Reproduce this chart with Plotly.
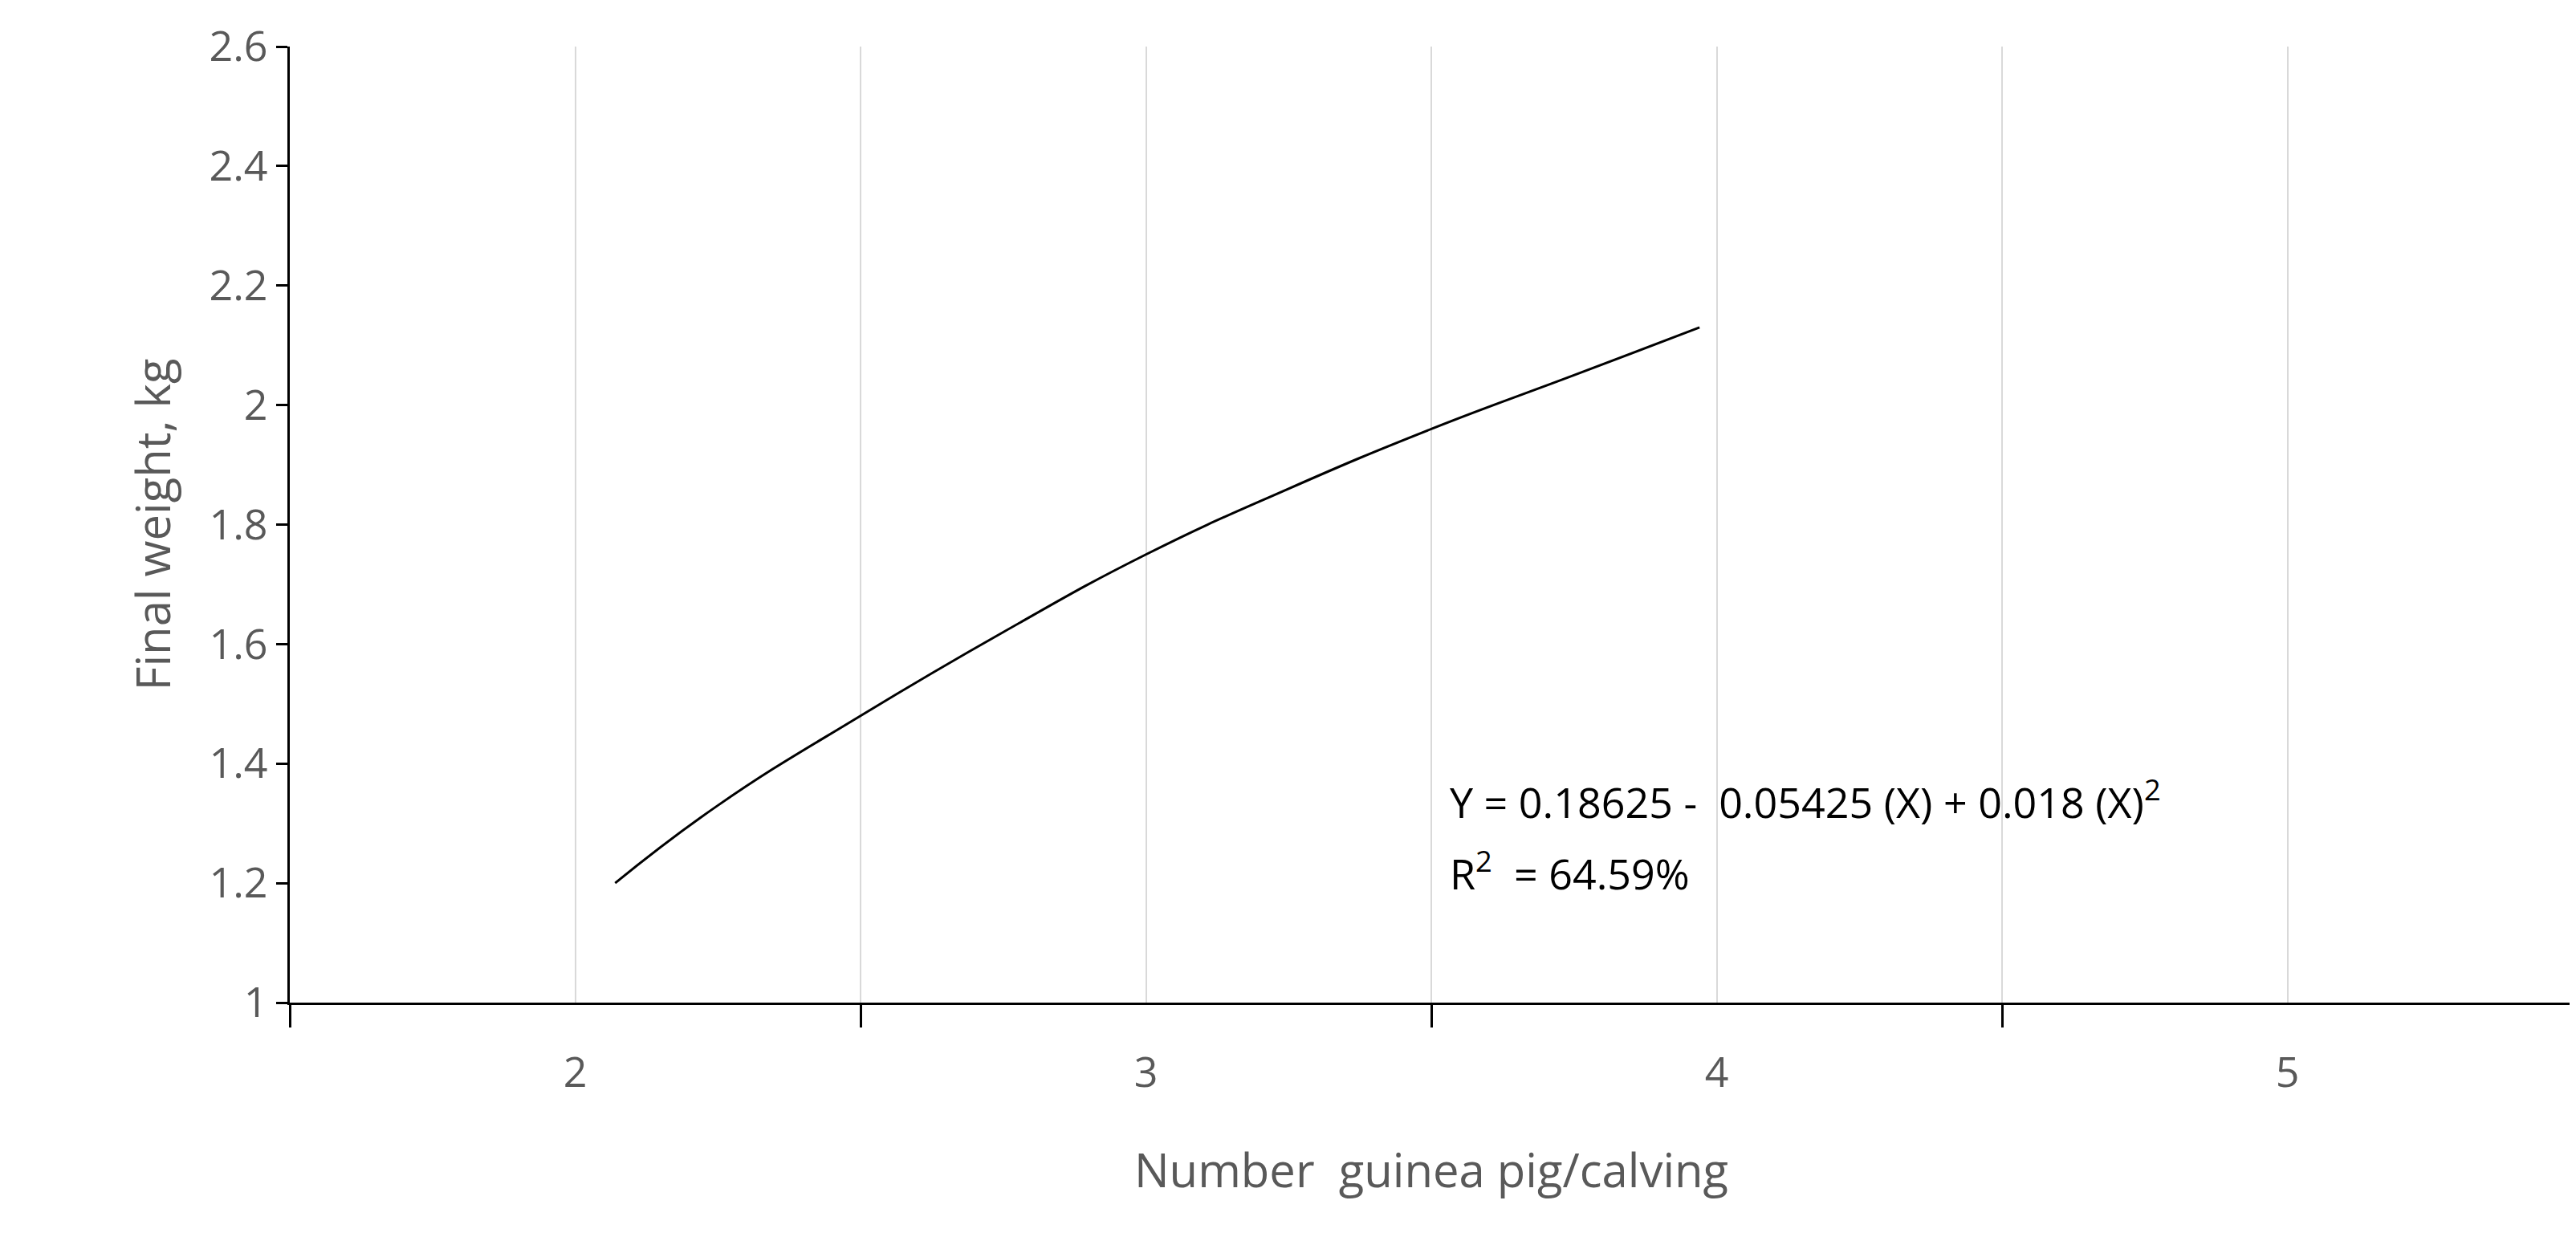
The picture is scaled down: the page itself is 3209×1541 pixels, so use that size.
import plotly.graph_objects as go

x_vals = [2.07, 2.25, 2.5, 2.75, 3.0, 3.25, 3.5, 3.75, 3.97]
y_vals = [1.20, 1.33, 1.48, 1.62, 1.75, 1.86, 1.96, 2.05, 2.13]

x_ticks = [2, 3, 4, 5]
y_ticks = [1, 1.2, 1.4, 1.6, 1.8, 2, 2.2, 2.4, 2.6]
y_labels = ["1", "1.2", "1.4", "1.6", "1.8", "2", "2.2", "2.4", "2.6"]

fig = go.Figure()
fig.add_trace(go.Scatter(x=x_vals, y=y_vals, mode="lines",
                         line=dict(color="black", width=3, shape="spline", smoothing=1.3),
                         showlegend=False))

gray = "#595959"
fig.update_layout(
    width=3209, height=1541,
    margin=dict(l=353, r=12, t=40, b=300),
    plot_bgcolor="white", paper_bgcolor="white",
    font=dict(family="Open Sans, Liberation Sans, sans-serif", color=gray, size=52),
    xaxis=dict(range=[1.5, 5.5], tickvals=x_ticks, ticks="", showgrid=True,
               gridcolor="#d9d9d9", gridwidth=2, showline=True, linecolor="black",
               linewidth=3, zeroline=False,
               minor=dict(tick0=1.5, dtick=1, ticks="outside", ticklen=28,
                          tickcolor="black", tickwidth=3, showgrid=True,
                          gridcolor="#d9d9d9", gridwidth=2),
               title=dict(text="Number  guinea pig/calving", font=dict(size=58), standoff=70),
               ticklabelstandoff=40),
    yaxis=dict(range=[1, 2.6], tickvals=y_ticks, ticktext=y_labels, showgrid=False,
               showline=True, linecolor="black", linewidth=3, zeroline=False,
               ticks="outside", ticklen=14, tickcolor="black", tickwidth=3,
               title=dict(text="Final weight, kg", font=dict(size=58), standoff=30)),
)

fig.add_annotation(x=3.53, y=1.34, xref="x", yref="y", xanchor="left", showarrow=False,
                   text="Y = 0.18625 -  0.05425 (X) + 0.018 (X)<sup>2</sup>",
                   font=dict(color="black", size=52))
fig.add_annotation(x=3.53, y=1.22, xref="x", yref="y", xanchor="left", showarrow=False,
                   text="R<sup>2</sup>  = 64.59%", font=dict(color="black", size=52))

fig.write_html("out.html")
